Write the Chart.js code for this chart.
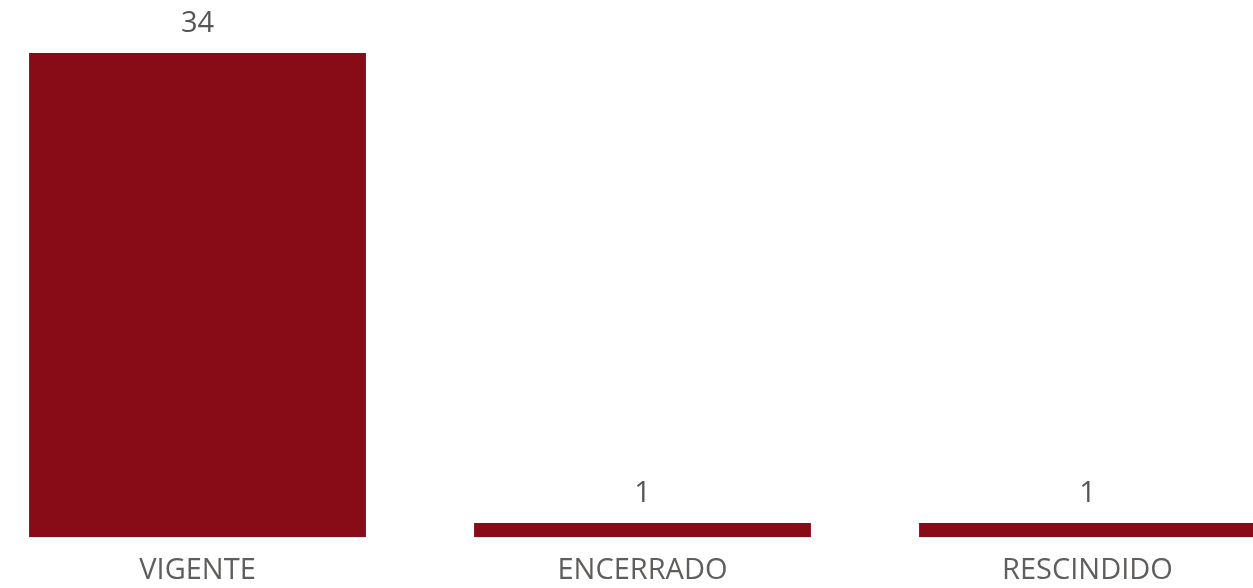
<!DOCTYPE html>
<html>
<head>
<meta charset="utf-8">
<script src="https://cdn.jsdelivr.net/npm/chart.js@4.4.1/dist/chart.umd.min.js"></script>
<style>
  html, body { margin: 0; padding: 0; background: #fff; overflow: hidden; }
  body { width: 1253px; height: 588px; position: relative; }
  .chartBox { position: absolute; left: -25px; top: 0; width: 1335px; height: 608px; }
</style>
</head>
<body>
<div class="chartBox"><canvas id="statusChart"></canvas></div>
<script>
const categories = ['VIGENTE', 'ENCERRADO', 'RESCINDIDO']
const counts = [34, 1, 1]

const barColor = '#870c18'
const textColor = '#605e5c'
const fontFamily = "'Open Sans', 'DejaVu Sans', sans-serif"

// draws the number above each bar
const valueLabels = {
    id: 'valueLabels',
    afterDatasetsDraw(chart) {
        const ctx = chart.ctx
        const meta = chart.getDatasetMeta(0)
        ctx.save()
        ctx.font = '29px ' + fontFamily
        ctx.fillStyle = '#555555'
        ctx.textAlign = 'center'
        ctx.textBaseline = 'alphabetic'
        meta.data.forEach((bar, i) => {
            ctx.fillText(counts[i], bar.x, bar.y - 21)
        })
        ctx.restore()
    }
}

const ctx = document.getElementById('statusChart')

new Chart(ctx, {
    type: 'bar',
    data: {
        labels: categories,
        datasets: [{
            data: counts,
            backgroundColor: barColor,
            borderWidth: 0,
            categoryPercentage: 1,
            barPercentage: 0.757,
        }]
    },
    options: {
        responsive: true,
        maintainAspectRatio: false,
        animation: false,
        layout: { padding: { top: 53, bottom: 4, left: 0, right: 0 } },
        plugins: {
            legend: { display: false },
            tooltip: { enabled: false },
        },
        scales: {
            x: {
                grid: { display: false, drawTicks: false },
                border: { display: false },
                ticks: {
                    color: textColor,
                    font: { family: fontFamily, size: 29 },
                    padding: 16,
                    maxRotation: 0,
                },
            },
            y: {
                display: false,
                min: 0,
                max: 34,
            },
        },
    },
    plugins: [valueLabels],
})
</script>
</body>
</html>
